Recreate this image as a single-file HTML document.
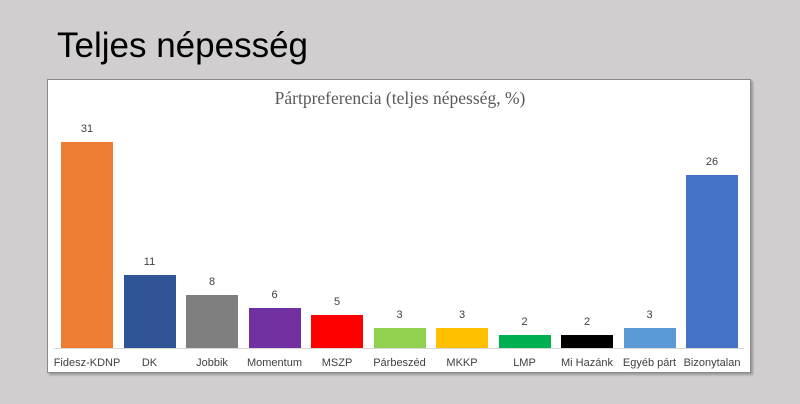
<!DOCTYPE html>
<html><head><meta charset="utf-8"><style>
body{margin:0;width:800px;height:404px;background:#d0cecf;position:relative;overflow:hidden;font-family:"Liberation Sans","DejaVu Sans",sans-serif}
.t{position:absolute;left:57px;top:26px;font-size:35px;color:#000}
.box{position:absolute;left:47px;top:79px;width:704px;height:294px;background:#fff;border:1px solid #8a8a8a;box-shadow:2px 2px 2px #999;box-sizing:border-box}
.ct{position:absolute;left:0;width:800px;top:88px;text-align:center;font-family:"Liberation Serif",serif;font-size:17.5px;color:#595959}
.b{position:absolute;width:52px}
.v,.l{position:absolute;width:80px;text-align:center;font-size:11px;color:#404040}
.base{position:absolute;left:54px;width:690px;top:348px;height:1px;background:#d9d9d9}
</style></head><body>
<div class="t">Teljes népesség</div>
<div class="box"></div>
<div class="ct">Pártpreferencia (teljes népesség, %)</div>
<div class="base"></div>
<div id="c"></div>
<script>
var d=[["Fidesz-KDNP",31,"#ed7d31"],["DK",11,"#2f5597"],["Jobbik",8,"#7f7f7f"],["Momentum",6,"#7030a0"],["MSZP",5,"#ff0000"],["Párbeszéd",3,"#92d050"],["MKKP",3,"#ffc000"],["LMP",2,"#00b050"],["Mi Hazánk",2,"#000000"],["Egyéb párt",3,"#5b9bd5"],["Bizonytalan",26,"#4472c4"]];
var h="";d.forEach(function(e,i){var x=61+i*62.5,ht=e[1]*6.65,top=348-ht;
h+='<div class="b" style="left:'+x+'px;top:'+top+'px;height:'+ht+'px;background:'+e[2]+'"></div>';
h+='<div class="v" style="left:'+(x-14)+'px;top:'+(top-19)+'px">'+e[1]+'</div>';
h+='<div class="l" style="left:'+(x-14)+'px;top:357px">'+e[0]+'</div>';});
document.getElementById("c").innerHTML=h;
</script>
</body></html>
